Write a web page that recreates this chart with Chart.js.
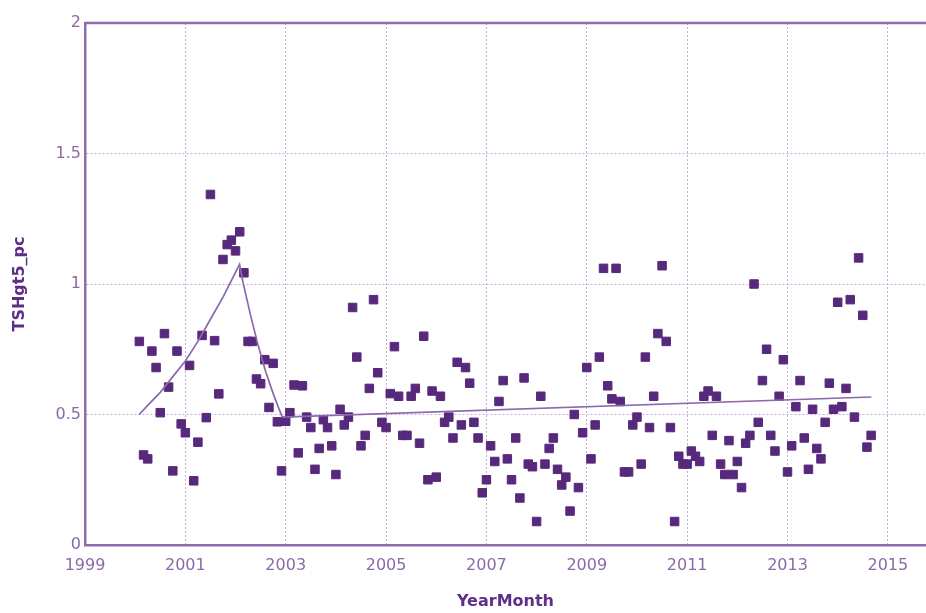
<!DOCTYPE html>
<html>
<head>
<meta charset="utf-8">
<script src="https://cdn.jsdelivr.net/npm/chart.js@4/dist/chart.umd.min.js"></script>
<style>
  html, body { margin: 0; padding: 0; background: #fff; overflow: hidden; }
  #wrap { width: 926px; height: 613px; }
  canvas { display: block; }
</style>
</head>
<body>
<div id="wrap"><canvas id="chart" width="926" height="613"></canvas></div>
<script>
// monthly values, Jan 2000 .. Aug 2014
const firstMonth = 2000 + 1 / 12;
const tshValues = [
  0.78, 0.345, 0.33, 0.743, 0.68, 0.507, 0.81, 0.605, 0.284, 0.743, 0.464, 0.43,
  0.688, 0.246, 0.394, 0.803, 0.488, 1.343, 0.783, 0.579, 1.094, 1.151, 1.168, 1.127,
  1.2, 1.043, 0.78, 0.78, 0.636, 0.618, 0.71, 0.527, 0.696, 0.472, 0.284, 0.474,
  0.507, 0.613, 0.353, 0.61, 0.49, 0.45, 0.29, 0.37, 0.48, 0.45, 0.38, 0.27,
  0.52, 0.46, 0.49, 0.91, 0.72, 0.38, 0.42, 0.6, 0.94, 0.66, 0.47, 0.45,
  0.58, 0.76, 0.57, 0.42, 0.42, 0.57, 0.6, 0.39, 0.8, 0.25, 0.59, 0.26,
  0.57, 0.47, 0.49, 0.41, 0.7, 0.46, 0.68, 0.62, 0.47, 0.41, 0.2, 0.25,
  0.38, 0.32, 0.55, 0.63, 0.33, 0.25, 0.41, 0.18, 0.64, 0.31, 0.3, 0.09,
  0.57, 0.31, 0.37, 0.41, 0.29, 0.23, 0.26, 0.13, 0.5, 0.22, 0.43, 0.68,
  0.33, 0.46, 0.72, 1.06, 0.61, 0.56, 1.06, 0.55, 0.28, 0.28, 0.46, 0.49,
  0.31, 0.72, 0.45, 0.57, 0.81, 1.07, 0.78, 0.45, 0.09, 0.34, 0.31, 0.31,
  0.36, 0.34, 0.32, 0.57, 0.59, 0.42, 0.57, 0.31, 0.27, 0.4, 0.27, 0.32,
  0.22, 0.39, 0.42, 1.0, 0.47, 0.63, 0.75, 0.42, 0.36, 0.57, 0.71, 0.28,
  0.38, 0.53, 0.63, 0.41, 0.29, 0.52, 0.37, 0.33, 0.47, 0.62, 0.52, 0.93,
  0.53, 0.6, 0.94, 0.49, 1.1, 0.88, 0.375, 0.42
];

// fitted trend
const trendX = [2000.08, 2000.25, 2000.5, 2000.75, 2001.0, 2001.25, 2001.5, 2001.75, 2002.08,
  2002.15, 2002.3, 2002.45, 2002.6, 2002.75, 2002.93, 2014.67];
const trendY = [0.5, 0.535, 0.585, 0.645, 0.705, 0.78, 0.865, 0.95, 1.075,
  1.005, 0.88, 0.765, 0.665, 0.58, 0.49, 0.567];

const xTicks = [1999, 2001, 2003, 2005, 2007, 2009, 2011, 2013, 2015];
const yTicks = [0, 0.5, 1, 1.5, 2];

const axisColor = "#8d6cb0";
const gridColor = "#c4aedb";
const tickColor = "#8a6aa8";
const titleColor = "#5e2e88";
const markColor = "#57297c";

const points = tshValues.map((v, i) => ({ x: firstMonth + i / 12, y: v }));
const trend = trendX.map((x, i) => ({ x: x, y: trendY[i] }));

const topFrame = {
  id: "topFrame",
  afterDraw(chart) {
    const { ctx, chartArea } = chart;
    ctx.save();
    ctx.strokeStyle = axisColor;
    ctx.lineWidth = 2.5;
    ctx.beginPath();
    ctx.moveTo(chartArea.left, chartArea.top);
    ctx.lineTo(chart.width, chartArea.top);
    ctx.stroke();
    ctx.restore();
  },
};

new Chart(document.getElementById("chart"), {
  type: "scatter",
  data: {
    datasets: [
      {
        label: "TSHgt5_pc",
        data: points,
        pointStyle: "rect",
        pointRadius: 6,
        pointBorderWidth: 1,
        backgroundColor: markColor,
        borderColor: markColor,
        order: 2,
      },
      {
        label: "trend",
        data: trend,
        showLine: true,
        pointRadius: 0,
        borderColor: "#8a69ac",
        borderWidth: 1.7,
        tension: 0,
        order: 1,
      },
    ],
  },
  options: {
    responsive: false,
    animation: false,
    events: [],
    layout: { autoPadding: false, padding: { top: 23, right: 0, left: 0, bottom: 0 } },
    plugins: {
      legend: { display: false },
      tooltip: { enabled: false },
    },
    scales: {
      x: {
        type: "linear",
        min: 1999,
        max: 2015.76,
        afterBuildTicks: (scale) => {
          scale.ticks = xTicks.map((v) => ({ value: v }));
        },
        afterFit: (scale) => {
          scale.height = 68;
        },
        ticks: {
          color: tickColor,
          font: { family: "DejaVu Sans", size: 16 },
          padding: 11,
          maxRotation: 0,
          autoSkip: false,
          callback: (v) => String(v),
        },
        grid: {
          color: (ctx) => (ctx.tick && ctx.tick.value === 1999 ? "rgba(0,0,0,0)" : gridColor),
          lineWidth: 1,
          drawTicks: false,
        },
        border: { display: true, color: axisColor, width: 2.5, dash: [2, 2] },
        title: {
          display: true,
          text: "YearMonth",
          color: titleColor,
          font: { family: "DejaVu Sans", size: 16, weight: "bold" },
          padding: { top: 0, bottom: 2 },
        },
      },
      y: {
        min: 0,
        max: 2,
        afterBuildTicks: (scale) => {
          scale.ticks = yTicks.map((v) => ({ value: v }));
        },
        afterFit: (scale) => {
          scale.width = 85;
        },
        ticks: {
          color: tickColor,
          font: { family: "DejaVu Sans", size: 16 },
          padding: 4,
          callback: (v) => String(v),
        },
        grid: {
          color: (ctx) => (ctx.tick && (ctx.tick.value === 0 || ctx.tick.value === 2) ? "rgba(0,0,0,0)" : gridColor),
          lineWidth: 1,
          drawTicks: false,
        },
        border: { display: true, color: axisColor, width: 2.5, dash: [2, 2] },
        title: {
          display: true,
          text: "TSHgt5_pc",
          color: titleColor,
          font: { family: "DejaVu Sans", size: 16, weight: "bold" },
          padding: { top: 10, bottom: 0 },
        },
      },
    },
  },
  plugins: [topFrame],
});
</script>
</body>
</html>
